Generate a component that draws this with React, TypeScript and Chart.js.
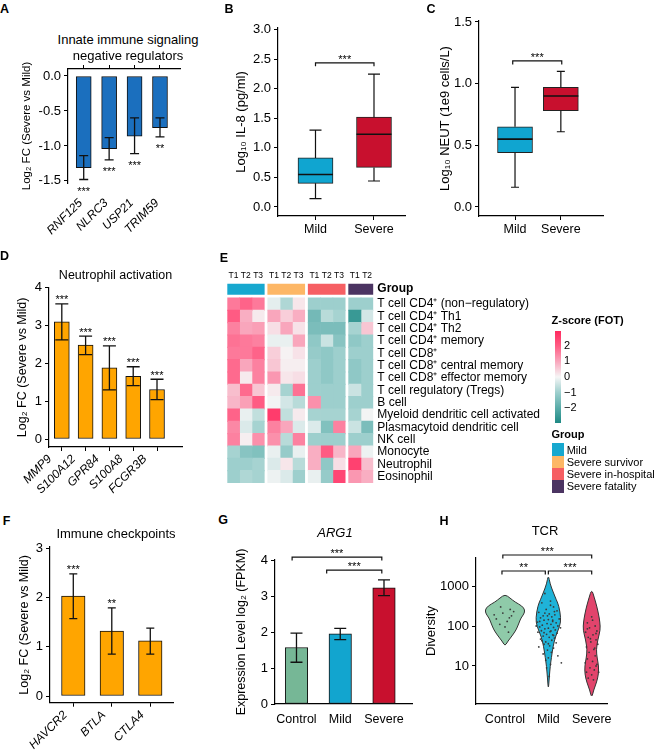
import React, { useEffect, useRef } from 'react';
import { Chart, registerables } from 'chart.js';

Chart.register(...registerables);

const FONT = "'Liberation Sans', Arial, Helvetica, sans-serif";
Chart.defaults.font.family = FONT;
Chart.defaults.color = '#000';

/* ====================== DATA ====================== */
// A — innate immune signaling negative regulators
const aGenes = ['RNF125', 'NLRC3', 'USP21', 'TRIM59'];
const aLog2FC = [-1.31, -1.04, -0.86, -0.74];
const aErrLow = [-1.48, -1.2, -1.11, -0.87];
const aErrHigh = [-1.14, -0.88, -0.6, -0.6];
const aSig = ['***', '***', '***', '**'];
const aYTicks = [0, -0.5, -1.0, -1.5];

// B — IL-8 box plot
const boxGroups = ['Mild', 'Severe'];
const bWhiskerLow = [0.14, 0.44];
const bQ1 = [0.4, 0.67];
const bMedian = [0.55, 1.23];
const bQ3 = [0.83, 1.52];
const bWhiskerHigh = [1.3, 2.25];
const bYTicks = [0, 0.5, 1, 1.5, 2, 2.5, 3];
const bBracket = [1, 2, 2.44];
const bBracketSig = '***';

// C — NEUT box plot
const cWhiskerLow = [0.16, 0.61];
const cQ1 = [0.44, 0.78];
const cMedian = [0.55, 0.9];
const cQ3 = [0.65, 0.97];
const cWhiskerHigh = [0.97, 1.1];
const cYTicks = [0, 0.5, 1.0, 1.5];
const cBracket = [0.95, 2.02, 1.184];
const cBracketSig = '***';

// D — neutrophil activation
const dGenes = ['MMP9', 'S100A12', 'GPR84', 'S100A8', 'FCGR3B'];
const dLog2FC = [3.1, 2.48, 1.88, 1.66, 1.31];
const dErrLow = [2.62, 2.23, 1.3, 1.41, 1.04];
const dErrHigh = [3.57, 2.72, 2.46, 1.91, 1.58];
const dSig = ['***', '***', '***', '***', '***'];
const dYTicks = [0, 1, 2, 3, 4];

// E — heatmap (Z-score of FOT)
const heatRows = [
  'T cell CD4\u207A (non\u2212regulatory)',
  'T cell CD4\u207A Th1',
  'T cell CD4\u207A Th2',
  'T cell CD4\u207A memory',
  'T cell CD8\u207A',
  'T cell CD8\u207A central memory',
  'T cell CD8\u207A effector memory',
  'T cell regulatory (Tregs)',
  'B cell',
  'Myeloid dendritic cell activated',
  'Plasmacytoid dendritic cell',
  'NK cell',
  'Monocyte',
  'Neutrophil',
  'Eosinophil',
];
const heatGroups = ['Mild', 'Severe survivor', 'Severe in-hospital', 'Severe fatality'];
const heatGroupColors = ['#17a8cf', '#fdb766', '#f65f63', '#4b3462'];
const heatColGroup = [0, 0, 0, 1, 1, 1, 2, 2, 2, 3, 3];
const heatColTime = ['T1', 'T2', 'T3', 'T1', 'T2', 'T3', 'T1', 'T2', 'T3', 'T1', 'T2'];
const zMild = [
  [1.6, 1.9, 1.6], [2.0, 0.9, 0.15], [1.5, 1.0, 1.1], [1.7, 1.6, 1.5], [1.6, 1.6, 1.9],
  [1.8, 1.0, 1.5], [1.8, 0.15, 1.5], [0.7, 1.8, 0.6], [0.8, 1.1, 2.0], [1.9, -0.15, -0.6],
  [1.4, -0.3, -0.9], [1.5, 0.1, 1.3], [-0.9, -1.3, -1.4], [-1.0, -1.0, -0.9], [-1.0, -0.8, -0.9],
];
const zSurvivor = [
  [-0.2, -0.8, 0.2], [1.0, 0.5, 0.9], [0.3, 1.0, 0.25], [-0.15, -0.15, 1.0], [0.5, 0.05, 0.25],
  [0.6, 0.1, 0.1], [1.2, 0.2, 0.3], [0.15, -0.9, 1.7], [-0.05, -0.4, -0.7], [2.6, -0.6, 0.15],
  [1.5, 1.0, -0.3], [1.3, -0.7, 1.5], [-0.15, -1.1, -0.15], [-0.3, 0.2, -0.7], [-0.1, -0.3, -1.0],
];
const zInHospital = [
  [-1.0, -1.0, -1.0], [-1.6, -0.7, -0.9], [-1.5, -1.5, -1.5], [-1.2, -0.5, -1.3], [-1.1, -1.2, -1.0],
  [-1.0, -1.2, -1.0], [-1.0, -1.2, -1.0], [-1.0, -1.0, -1.0], [1.3, -1.0, -1.0], [-0.9, -0.9, -0.9],
  [-0.3, -1.4, 1.5], [-1.0, -1.0, -1.0], [0.9, 2.0, 0.8], [0.9, -1.2, 0.3], [-0.15, -1.1, 2.4],
];
const zFatality = [
  [-1.0, -1.0], [-2.5, -0.4], [-0.9, 0.6], [-1.2, -1.0], [-1.0, -1.0],
  [-1.2, -1.0], [-1.2, -1.0], [-0.5, -1.0], [-1.0, -1.0], [-0.9, -0.05],
  [-0.5, -1.5], [-1.0, -1.0], [1.0, -0.1], [2.5, 0.7], [1.2, 0.9],
];
const zLegendTicks = [2, 1, 0, -1, -2];

// F — immune checkpoints
const fGenes = ['HAVCR2', 'BTLA', 'CTLA4'];
const fLog2FC = [2.03, 1.32, 1.12];
const fErrLow = [1.57, 0.85, 0.85];
const fErrHigh = [2.48, 1.79, 1.38];
const fSig = ['***', '**', ''];
const fYTicks = [0, 1, 2, 3];

// G — ARG1 expression
const gGroups = ['Control', 'Mild', 'Severe'];
const gMean = [1.57, 1.95, 3.23];
const gErrLow = [1.16, 1.79, 3.01];
const gErrHigh = [1.97, 2.1, 3.45];
const gYTicks = [0, 1, 2, 3, 4];
const gBracketFrom = [0.9, 1.69];
const gBracketTo = [2.95, 2.95];
const gBracketY = [4.08, 3.72];
const gBracketSig = ['***', '***'];

// H — TCR diversity (violins)
const hGroups = ['Control', 'Mild', 'Severe'];
const hYTicks = [10, 100, 1000];
const hCtrlLog = [1.5, 1.6, 1.7, 1.8, 1.9, 2.0, 2.1, 2.2, 2.3, 2.4, 2.5, 2.6, 2.7, 2.79];
const hCtrlDens = [0, 0.12, 0.27, 0.42, 0.55, 0.64, 0.72, 0.8, 0.95, 1.0, 0.86, 0.5, 0.25, 0];
const hMildLog = [0.4, 0.7, 1.0, 1.2, 1.5, 1.75, 2.0, 2.2, 2.5, 2.65, 2.85, 3.05, 3.28];
const hMildDens = [0, 0.07, 0.15, 0.24, 0.38, 0.58, 0.92, 1.0, 0.84, 0.64, 0.38, 0.14, 0];
const hSevLog = [0.2, 0.4, 0.6, 0.8, 1.0, 1.2, 1.4, 1.65, 1.9, 2.1, 2.3, 2.5, 2.7, 2.92];
const hSevDens = [0, 0.22, 0.55, 0.75, 0.76, 0.6, 0.5, 0.66, 0.95, 0.9, 0.75, 0.55, 0.3, 0];
const hCtrlPts = [
  [-0.05, 210], [0.12, 260], [-0.2, 150], [0.05, 130], [0.15, 180], [-0.1, 300],
  [0.2, 230], [0.0, 95], [-0.12, 110], [0.08, 70], [0.1, 160], [-0.25, 190],
];
const hMildPts = [
  [-0.08, 650], [0.05, 420], [-0.15, 380], [0.12, 300], [-0.05, 260], [0.2, 240], [-0.22, 220],
  [0.02, 200], [0.15, 190], [-0.12, 180], [0.08, 170], [-0.18, 160], [0.25, 150], [0.0, 145],
  [-0.1, 140], [0.1, 130], [-0.25, 125], [0.18, 120], [-0.03, 115], [0.06, 110], [-0.14, 105],
  [0.22, 100], [-0.2, 95], [0.12, 92], [0.0, 88], [-0.08, 85], [0.16, 80], [-0.16, 76],
  [0.04, 72], [-0.24, 70], [0.2, 66], [-0.04, 62], [0.1, 60], [-0.12, 56], [0.02, 52],
  [0.14, 50], [-0.18, 47], [0.08, 44], [-0.06, 40], [0.18, 38], [-0.1, 35], [0.03, 32],
  [-0.22, 30], [0.12, 28], [-0.02, 25], [0.07, 22], [-0.12, 20], [0.22, 18], [0.0, 16],
  [-0.06, 14], [0.3, 12], [0.05, 11], [-0.04, 9], [0.02, 5.5], [0.1, 140], [-0.08, 210],
  [0.05, 330], [-0.02, 180], [0.14, 230], [-0.2, 130], [0.28, 90], [-0.28, 100], [0.06, 75],
  [-0.1, 68], [0.12, 58], [-0.15, 43], [0.0, 36],
];
const hSevPts = [
  [0.0, 170], [-0.1, 120], [0.08, 100], [-0.05, 90], [0.12, 75], [-0.14, 70], [0.03, 60],
  [-0.08, 52], [0.1, 45], [-0.02, 40], [0.14, 35], [-0.12, 30], [0.05, 26], [-0.06, 22],
  [0.08, 18], [-0.1, 15], [0.02, 13], [0.12, 11], [-0.04, 9], [0.06, 8], [-0.12, 7],
  [0.16, 7], [0.0, 6], [-0.08, 5], [0.04, 4.5], [0.1, 10], [-0.15, 12], [0.07, 28],
  [-0.03, 48], [0.1, 65], [-0.1, 85], [0.02, 140],
];
const hBracketFrom = [0.93, 2.0, 0.95];
const hBracketTo = [1.93, 3.0, 3.0];
const hBracketY = [2370, 2370, 5960];
const hBracketSig = ['**', '***', '***'];

/* ====================== LAYOUT / STYLE ====================== */
type Rect = { x: number; y: number; w: number; h: number };
type Area = { l: number; t: number; r: number; b: number };

const margins = (r: Rect, a: Area) => ({
  left: a.l - r.x,
  top: a.t - r.y,
  right: r.x + r.w - a.r,
  bottom: r.y + r.h - a.b,
});

const fixSize = (size: number) => (s: any) => {
  if (s.isHorizontal()) s.height = size;
  else s.width = size;
  s.paddingLeft = 0;
  s.paddingRight = 0;
  s.paddingTop = 0;
  s.paddingBottom = 0;
};

const fmt1 = (v: number) => v.toFixed(1);
const fmt0 = (v: number) => String(Math.round(v));

const zStops: [number, string][] = [
  [-2.94, '#1e8984'], [-2, '#58aba8'], [-1, '#9dcfcd'], [0, '#f6f6f6'],
  [1, '#f9a6bc'], [2, '#ff5b83'], [2.94, '#ff2a5f'],
];
const hex = (c: string) => [1, 3, 5].map((i) => parseInt(c.slice(i, i + 2), 16));
function zColor(z: number) {
  if (z <= zStops[0][0]) return zStops[0][1];
  for (let i = 1; i < zStops.length; i++) {
    if (z <= zStops[i][0]) {
      const [z0, c0] = zStops[i - 1];
      const [z1, c1] = zStops[i];
      const t = (z - z0) / (z1 - z0);
      const a = hex(c0), b = hex(c1);
      const m = a.map((v, k) => Math.round(v + (b[k] - v) * t));
      return `rgb(${m[0]},${m[1]},${m[2]})`;
    }
  }
  return zStops[zStops.length - 1][1];
}

function drawStars(ctx: any, text: string, x: number, cy: number, fs = 11) {
  if (!text) return;
  ctx.font = `${fs}px ${FONT}`;
  ctx.textAlign = 'center';
  ctx.textBaseline = 'alphabetic';
  ctx.fillStyle = '#000';
  ctx.fillText(text, x, cy + 0.58 * fs);
}

function makeExtras(d: any) {
  return {
    id: 'extras',
    beforeDatasetsDraw(chart: any) {
      if (!d.violins) return;
      const ctx = chart.ctx, xs = chart.scales.x, ys = chart.scales.y;
      ctx.save();
      for (const v of d.violins) {
        const right: number[][] = [], left: number[][] = [];
        v.logY.forEach((ly: number, k: number) => {
          const py = ys.getPixelForValue(Math.pow(10, ly));
          right.push([xs.getPixelForValue(v.x + v.dens[k] * v.half), py]);
          left.push([xs.getPixelForValue(v.x - v.dens[k] * v.half), py]);
        });
        const pts = right.concat(left.slice(1, -1).reverse());
        const n = pts.length;
        const mid = (a: number[], b: number[]) => [(a[0] + b[0]) / 2, (a[1] + b[1]) / 2];
        const m0 = mid(pts[n - 1], pts[0]);
        ctx.beginPath();
        ctx.moveTo(m0[0], m0[1]);
        for (let i = 0; i < n; i++) {
          const p = pts[i], q = pts[(i + 1) % n];
          const m = mid(p, q);
          ctx.quadraticCurveTo(p[0], p[1], m[0], m[1]);
        }
        ctx.closePath();
        ctx.fillStyle = v.color;
        ctx.fill();
        ctx.strokeStyle = '#333';
        ctx.lineWidth = 1;
        ctx.stroke();
      }
      ctx.restore();
    },
    afterDatasetsDraw(chart: any) {
      const ctx = chart.ctx, xs = chart.scales.x, ys = chart.scales.y;
      const py = (v: number) => ys.getPixelForValue(v);
      ctx.save();
      ctx.strokeStyle = '#111';
      (d.boxes || []).forEach((b: any) => {
        const x = xs.getPixelForValue(b.x);
        ctx.lineWidth = 1.2;
        ctx.beginPath();
        ctx.moveTo(x, py(b.q3)); ctx.lineTo(x, py(b.max));
        ctx.moveTo(x, py(b.q1)); ctx.lineTo(x, py(b.min));
        ctx.moveTo(x - b.cap / 2, py(b.max)); ctx.lineTo(x + b.cap / 2, py(b.max));
        ctx.moveTo(x - b.cap / 2, py(b.min)); ctx.lineTo(x + b.cap / 2, py(b.min));
        ctx.stroke();
        ctx.lineWidth = 1.6;
        ctx.beginPath();
        ctx.moveTo(x - b.w / 2, py(b.med)); ctx.lineTo(x + b.w / 2, py(b.med));
        ctx.stroke();
      });
      (d.errors || []).forEach((e: any) => {
        const x = xs.getPixelForValue(e.x);
        const y1 = py(e.lo), y2 = py(e.hi);
        ctx.lineWidth = 1.3;
        ctx.beginPath();
        ctx.moveTo(x, y1); ctx.lineTo(x, y2);
        ctx.moveTo(x - e.cap / 2, y1); ctx.lineTo(x + e.cap / 2, y1);
        ctx.moveTo(x - e.cap / 2, y2); ctx.lineTo(x + e.cap / 2, y2);
        ctx.stroke();
      });
      (d.stars || []).forEach((s: any) => {
        const x = xs.getPixelForValue(s.x);
        const p = py(s.v);
        drawStars(ctx, s.text, x, s.below ? p + s.gap : p - s.gap);
      });
      (d.brackets || []).forEach((b: any) => {
        const x1 = xs.getPixelForValue(b.from), x2 = xs.getPixelForValue(b.to);
        const y = py(b.y);
        ctx.lineWidth = 1.2;
        ctx.beginPath();
        ctx.moveTo(x1, y + 3.5); ctx.lineTo(x1, y); ctx.lineTo(x2, y); ctx.lineTo(x2, y + 3.5);
        ctx.stroke();
        drawStars(ctx, b.text, (x1 + x2) / 2, y - 6.5);
      });
      ctx.restore();
    },
  };
}

function xAxis(o: any) {
  const marks = o.marks !== false;
  return {
    type: 'linear', position: 'bottom', bounds: 'data', offset: false, min: o.min, max: o.max,
    afterBuildTicks: (s: any) => { s.ticks = o.labels.map((_: any, i: number) => ({ value: i + 1 })); },
    afterFit: fixSize(o.size),
    ticks: {
      autoSkip: false, minRotation: o.rot || 0, maxRotation: o.rot || 0,
      padding: o.pad ?? 3, labelOffset: o.labelOffset || 0, color: '#000',
      font: { size: o.fontSize || 12, style: o.italic ? 'italic' : 'normal' },
      callback: (_v: any, i: number) => o.labels[i],
    },
    grid: { display: marks, offset: false, drawOnChartArea: false, drawTicks: true, tickLength: marks ? 4 : 0, color: '#000', lineWidth: 1 },
    border: { display: o.border !== false, color: '#000', width: 1.2 },
  };
}

function yAxis(o: any) {
  const lh = o.titleSize * 1.2;
  return {
    type: o.type || 'linear', bounds: 'data', offset: false, min: o.min, max: o.max,
    afterBuildTicks: (s: any) => { s.ticks = o.ticks.map((v: number) => ({ value: v })); },
    afterFit: fixSize(o.size),
    ticks: { autoSkip: false, padding: 3, color: '#000', font: { size: 13 }, callback: (v: number) => o.fmt(v) },
    grid: { display: true, offset: false, drawOnChartArea: false, drawTicks: true, tickLength: 4, color: '#000', lineWidth: 1 },
    border: { display: true, color: '#000', width: 1.2 },
    title: {
      display: true, text: o.title, color: '#000', font: { size: o.titleSize },
      padding: { top: o.titleCenter - lh / 2, bottom: 0 },
    },
  };
}

const baseOptions = (m: any, extraPad: any = {}) => ({
  responsive: false,
  animation: false,
  devicePixelRatio: 1,
  layout: { padding: { left: 0, bottom: 0, top: m.top, right: m.right, ...extraPad }, autoPadding: false },
  plugins: { legend: { display: false }, tooltip: { enabled: false } },
  events: [],
});

/* ---------- bar panels ---------- */
function barConfig(p: any) {
  const m = margins(p.rect, p.area);
  const scales: any = {
    x: xAxis({
      labels: p.labels, min: p.xMin, max: p.xMax, size: m.bottom, rot: p.rot, italic: p.italic,
      pad: p.pad, labelOffset: p.labelOffset, fontSize: p.labelSize, marks: p.topAxis ? false : p.marks,
      border: !p.topAxis,
    }),
    y: yAxis({
      min: p.yMin, max: p.yMax, ticks: p.yTicks, fmt: p.fmt, size: m.left,
      title: p.yTitle, titleSize: p.yTitleSize || 13, titleCenter: p.yTitleX - p.rect.x,
    }),
  };
  if (p.topAxis) {
    scales.xTop = {
      type: 'linear', position: 'top', bounds: 'data', offset: false, min: p.xMin, max: p.xMax,
      afterBuildTicks: (s: any) => { s.ticks = p.labels.map((_: any, i: number) => ({ value: i + 1 })); },
      afterFit: fixSize(m.top),
      ticks: { display: false },
      grid: { display: true, offset: false, drawOnChartArea: false, drawTicks: true, tickLength: 4, color: '#000', lineWidth: 1 },
      border: { display: true, color: '#000', width: 1.2 },
    };
  }
  const opts: any = baseOptions(m, p.topAxis ? { top: 0 } : {});
  opts.scales = scales;
  return {
    type: 'bar',
    data: {
      datasets: [{
        data: p.values.map((v: number, i: number) => ({ x: i + 1, y: v })),
        backgroundColor: p.colors, borderColor: '#111', borderWidth: 1, borderSkipped: false,
        barThickness: p.barWidth, xAxisID: 'x', yAxisID: 'y',
      }],
    },
    options: opts,
    plugins: [makeExtras({
      errors: p.values.map((_: number, i: number) => ({ x: i + 1, lo: p.errLow[i], hi: p.errHigh[i], cap: p.cap })),
      stars: (p.sig || []).map((s: string, i: number) => ({
        x: i + 1, text: s, below: p.values[i] < 0,
        v: p.values[i] < 0 ? p.errLow[i] : p.errHigh[i], gap: p.values[i] < 0 ? 9 : 7,
      })),
      brackets: p.brackets || [],
    })],
  };
}

/* ---------- box panels ---------- */
function boxConfig(p: any) {
  const m = margins(p.rect, p.area);
  const opts: any = baseOptions(m);
  opts.scales = {
    x: xAxis({ labels: boxGroups, min: p.xMin, max: p.xMax, size: m.bottom, pad: 2, fontSize: 12.5 }),
    y: yAxis({
      min: p.yMin, max: p.yMax, ticks: p.yTicks, fmt: fmt1, size: m.left,
      title: p.yTitle, titleSize: 13, titleCenter: p.yTitleX - p.rect.x,
    }),
  };
  return {
    type: 'bar',
    data: {
      datasets: [{
        data: boxGroups.map((_, i) => ({ x: i + 1, y: [p.q1[i], p.q3[i]] })),
        backgroundColor: ['#10a5d0', '#c8102e'], borderColor: '#222', borderWidth: 1,
        borderSkipped: false, barThickness: p.boxWidth,
      }],
    },
    options: opts,
    plugins: [makeExtras({
      boxes: boxGroups.map((_, i) => ({
        x: i + 1, min: p.lo[i], q1: p.q1[i], med: p.med[i], q3: p.q3[i], max: p.hi[i], w: p.boxWidth, cap: p.cap,
      })),
      brackets: [{ from: p.bracket[0], to: p.bracket[1], y: p.bracket[2], text: p.bracketSig }],
    })],
  };
}

/* ---------- heatmap ---------- */
const E_RECT: Rect = { x: 220, y: 262, w: 335, h: 230 };
const E_AREA: Area = { l: 227.3, t: 283, r: 373.3, b: 483 };
const ROW_PX = 12.333;
const HEAT_GAP = 0.28;
const GROUP_ROW = -1.2176;
const zByGroup = [zMild, zSurvivor, zInHospital, zFatality];

function heatConfig() {
  const m = margins(E_RECT, E_AREA);
  const colStart = heatColGroup.map((g, j) => j + g * HEAT_GAP);
  const firstCol = (g: number) => heatColGroup.indexOf(g);
  const zAt = (i: number, j: number) => zByGroup[heatColGroup[j]][i][j - firstCol(heatColGroup[j])];
  const datasets: any[] = heatColTime.map((_, j) => ({
    data: heatRows.map((_r, i) => ({ y: i, x: [colStart[j], colStart[j] + 1] })),
    backgroundColor: heatRows.map((_r, i) => zColor(zAt(i, j))),
    barThickness: ROW_PX + 0.5, borderWidth: 0, grouped: false,
  }));
  datasets.push({
    data: heatGroups.map((_, g) => {
      const cols = heatColGroup.map((gg, j) => (gg === g ? j : -1)).filter((j) => j >= 0);
      return { y: GROUP_ROW, x: [colStart[cols[0]], colStart[cols[cols.length - 1]] + 1] };
    }),
    backgroundColor: heatGroupColors, barThickness: 10.3, borderWidth: 0, grouped: false,
  });
  const opts: any = baseOptions(m, { left: m.left, bottom: m.bottom, top: 0, right: 0 });
  opts.indexAxis = 'y';
  opts.scales = {
    x: {
      type: 'linear', position: 'top', bounds: 'data', offset: false, min: 0, max: colStart[colStart.length - 1] + 1,
      afterBuildTicks: (s: any) => { s.ticks = colStart.map((v) => ({ value: v + 0.5 })); },
      afterFit: fixSize(m.top),
      ticks: { autoSkip: false, maxRotation: 0, minRotation: 0, padding: 2.2, color: '#000', font: { size: 8.5 },
        callback: (_v: any, i: number) => heatColTime[i] },
      grid: { display: false, drawTicks: false }, border: { display: false },
    },
    y: {
      type: 'linear', position: 'right', reverse: true, bounds: 'data', offset: false,
      min: -0.5 - 15 / ROW_PX, max: heatRows.length - 0.5,
      afterBuildTicks: (s: any) => { s.ticks = [GROUP_ROW, ...heatRows.map((_, i) => i)].map((v) => ({ value: v })); },
      afterFit: fixSize(m.right),
      ticks: {
        autoSkip: false, padding: 4, color: '#000',
        font: (c: any) => ({ size: 12, weight: c.index === 0 ? 'bold' : 'normal' }),
        callback: (_v: any, i: number) => (i === 0 ? 'Group' : heatRows[i - 1]),
      },
      grid: { display: false, offset: false, drawTicks: false }, border: { display: false },
    },
  };
  return { type: 'bar', data: { datasets }, options: opts };
}

/* ---------- colour bar ---------- */
const CB_RECT: Rect = { x: 548, y: 325, w: 30, h: 105 };
const CB_AREA: Area = { l: 555, t: 331, r: 561, b: 423 };
const Z_MIN = -2.94, Z_MAX = 2.94;
function colorbarConfig() {
  const m = margins(CB_RECT, CB_AREA);
  const opts: any = baseOptions(m, { left: m.left, bottom: m.bottom, right: 0 });
  opts.scales = {
    x: { display: false },
    y: {
      type: 'linear', position: 'right', bounds: 'data', min: Z_MIN, max: Z_MAX,
      afterBuildTicks: (s: any) => { s.ticks = zLegendTicks.map((v) => ({ value: v })); },
      afterFit: fixSize(m.right),
      ticks: { padding: 3, color: '#000', font: { size: 11 }, callback: (v: number) => (v < 0 ? '\u2212' + Math.abs(v) : String(v)) },
      grid: { display: false, drawTicks: false }, border: { display: false },
    },
  };
  return {
    type: 'bar',
    data: {
      labels: [''],
      datasets: [{
        data: [[Z_MIN, Z_MAX]], barPercentage: 1, categoryPercentage: 1, borderWidth: 0,
        backgroundColor: (c: any) => {
          const a = c.chart.chartArea;
          if (!a) return '#fff';
          const g = c.chart.ctx.createLinearGradient(0, a.bottom, 0, a.top);
          zStops.forEach(([z, col]) => g.addColorStop((z - Z_MIN) / (Z_MAX - Z_MIN), col));
          return g;
        },
      }],
    },
    options: opts,
  };
}

/* ---------- violin panel ---------- */
const H_RECT: Rect = { x: 418, y: 540, w: 237, h: 213 };
const H_AREA: Area = { l: 476, t: 558, r: 607, b: 704 };
function violinConfig() {
  const m = margins(H_RECT, H_AREA);
  const opts: any = baseOptions(m);
  opts.scales = {
    x: xAxis({ labels: hGroups, min: 0.331, max: 3.353, size: m.bottom, pad: 8.5, fontSize: 12.5, marks: false }),
    y: yAxis({
      type: 'logarithmic', min: 1.122, max: 5012, ticks: hYTicks, fmt: fmt0, size: m.left,
      title: 'Diversity', titleSize: 13, titleCenter: 431 - H_RECT.x,
    }),
  };
  const pts = [hCtrlPts, hMildPts, hSevPts];
  return {
    type: 'scatter',
    data: {
      datasets: pts.map((arr, g) => ({
        data: arr.map(([dx, v]) => ({ x: g + 1 + dx, y: v })),
        pointRadius: 0.9, pointBackgroundColor: '#3a3a3a', pointBorderWidth: 0, showLine: false,
      })),
    },
    options: opts,
    plugins: [makeExtras({
      violins: [
        { x: 1, logY: hCtrlLog, dens: hCtrlDens, half: 0.46, color: '#8fcaa9' },
        { x: 2, logY: hMildLog, dens: hMildDens, half: 0.29, color: '#1fb3d8' },
        { x: 3, logY: hSevLog, dens: hSevDens, half: 0.21, color: '#e2446c' },
      ],
      brackets: hBracketSig.map((s, i) => ({ from: hBracketFrom[i], to: hBracketTo[i], y: hBracketY[i], text: s })),
    })],
  };
}

/* ---------- panel configs ---------- */
const makeA = () => barConfig({
  rect: { x: 0, y: 60, w: 215, h: 190 }, area: { l: 68, t: 69, r: 180, b: 183 }, topAxis: true,
  labels: aGenes, values: aLog2FC, errLow: aErrLow, errHigh: aErrHigh, sig: aSig,
  xMin: 0.382, xMax: 4.787, yMin: -1.53, yMax: 0.1, yTicks: aYTicks, fmt: fmt1,
  colors: '#1b6fbe', barWidth: 15, cap: 9, rot: 45, italic: true, pad: 13, labelOffset: -3, labelSize: 12,
  yTitle: 'Log\u2082 FC (Severe vs Mild)', yTitleSize: 11.5, yTitleX: 27,
});
const makeB = () => boxConfig({
  rect: { x: 215, y: 15, w: 215, h: 235 }, area: { l: 278, t: 28, r: 405, b: 216 },
  xMin: 0.359, xMax: 2.53, yMin: -0.153, yMax: 3.03, yTicks: bYTicks,
  lo: bWhiskerLow, q1: bQ1, med: bMedian, q3: bQ3, hi: bWhiskerHigh, boxWidth: 35, cap: 12,
  bracket: bBracket, bracketSig: bBracketSig,
  yTitle: 'Log\u2081\u2080 IL-8 (pg/ml)', yTitleX: 241,
});
const makeC = () => boxConfig({
  rect: { x: 430, y: 5, w: 225, h: 245 }, area: { l: 479, t: 21, r: 603, b: 216 },
  xMin: 0.214, xMax: 2.92, yMin: -0.073, yMax: 1.508, yTicks: cYTicks,
  lo: cWhiskerLow, q1: cQ1, med: cMedian, q3: cQ3, hi: cWhiskerHigh, boxWidth: 35, cap: 8,
  bracket: cBracket, bracketSig: cBracketSig,
  yTitle: 'Log\u2081\u2080 NEUT (1e9 cells/L)', yTitleX: 445,
});
const makeD = () => barConfig({
  rect: { x: 0, y: 282, w: 210, h: 218 }, area: { l: 49, t: 287.7, r: 182, b: 447 },
  labels: dGenes, values: dLog2FC, errLow: dErrLow, errHigh: dErrHigh, sig: dSig,
  xMin: 0.462, xMax: 6.05, yMin: -0.211, yMax: 4.0, yTicks: dYTicks, fmt: fmt0,
  colors: '#ffa500', barWidth: 15, cap: 13, rot: 45, italic: true, pad: 1, labelOffset: -12, labelSize: 12,
  yTitle: 'Log\u2082 FC (Severe vs Mild)', yTitleSize: 12.5, yTitleX: 23,
});
const makeF = () => barConfig({
  rect: { x: 0, y: 540, w: 215, h: 213 }, area: { l: 50, t: 547, r: 173, b: 702.7 },
  labels: fGenes, values: fLog2FC, errLow: fErrLow, errHigh: fErrHigh, sig: fSig,
  xMin: 0.395, xMax: 3.59, yMin: -0.136, yMax: 3.026, yTicks: fYTicks, fmt: fmt0,
  colors: '#ffa500', barWidth: 23.5, cap: 8, rot: 45, italic: true, pad: 1.5, labelOffset: -8, labelSize: 12,
  yTitle: 'Log\u2082 FC (Severe vs Mild)', yTitleSize: 12.5, yTitleX: 25,
});
const makeG = () => barConfig({
  rect: { x: 215, y: 540, w: 205, h: 213 }, area: { l: 275, t: 560, r: 412, b: 704 },
  labels: gGroups, values: gMean, errLow: gErrLow, errHigh: gErrHigh, sig: [],
  xMin: 0.509, xMax: 3.64, yMin: 0, yMax: 4, yTicks: gYTicks, fmt: fmt0,
  colors: ['#76b796', '#12a5cf', '#c8102e'], barWidth: 22.5, cap: 12, rot: 0, italic: false,
  pad: 8, labelOffset: 0, labelSize: 12.5, marks: false,
  yTitle: 'Expression Level log\u2082 (FPKM)', yTitleSize: 12.5, yTitleX: 241.5,
  brackets: gBracketSig.map((s, i) => ({ from: gBracketFrom[i], to: gBracketTo[i], y: gBracketY[i], text: s })),
});

/* ====================== COMPONENTS ====================== */
function ChartBox({ rect, make }: { rect: Rect; make: () => any }) {
  const ref = useRef<HTMLCanvasElement | null>(null);
  useEffect(() => {
    const chart = new Chart(ref.current as HTMLCanvasElement, make());
    return () => chart.destroy();
  }, []);
  return (
    <canvas
      ref={ref}
      width={rect.w}
      height={rect.h}
      style={{ position: 'absolute', left: rect.x, top: rect.y, width: rect.w, height: rect.h }}
    />
  );
}

function Txt({ x, y, s = 13, bold = false, italic = false, left = false, children }: any) {
  return (
    <div
      style={{
        position: 'absolute', left: x, top: y,
        transform: left ? 'translate(0,-50%)' : 'translate(-50%,-50%)',
        fontSize: s, fontWeight: bold ? 700 : 400, fontStyle: italic ? 'italic' : 'normal',
        whiteSpace: 'nowrap', lineHeight: 1, color: '#000',
      }}
    >
      {children}
    </div>
  );
}

const legendY = [443.3, 455.6, 467.9, 480.2];

export default function App() {
  useEffect(() => {
    document.body.style.margin = '0';
  }, []);
  return (
    <div
      style={{
        position: 'absolute', left: 0, top: 0, width: 655, height: 753,
        background: '#fff', fontFamily: FONT, overflow: 'hidden',
      }}
    >
      <ChartBox rect={{ x: 0, y: 60, w: 215, h: 190 }} make={makeA} />
      <ChartBox rect={{ x: 215, y: 15, w: 215, h: 235 }} make={makeB} />
      <ChartBox rect={{ x: 430, y: 5, w: 225, h: 245 }} make={makeC} />
      <ChartBox rect={{ x: 0, y: 282, w: 210, h: 218 }} make={makeD} />
      <ChartBox rect={E_RECT} make={heatConfig} />
      <ChartBox rect={CB_RECT} make={colorbarConfig} />
      <ChartBox rect={{ x: 0, y: 540, w: 215, h: 213 }} make={makeF} />
      <ChartBox rect={{ x: 215, y: 540, w: 205, h: 213 }} make={makeG} />
      <ChartBox rect={H_RECT} make={violinConfig} />

      {/* panel letters */}
      <Txt x={4.5} y={9} s={12.5} bold>A</Txt>
      <Txt x={229} y={9} s={12.5} bold>B</Txt>
      <Txt x={431} y={9} s={12.5} bold>C</Txt>
      <Txt x={4.5} y={256} s={12.5} bold>D</Txt>
      <Txt x={224} y={258} s={12.5} bold>E</Txt>
      <Txt x={6.5} y={520.5} s={12.5} bold>F</Txt>
      <Txt x={223} y={520} s={12.5} bold>G</Txt>
      <Txt x={444} y={521} s={12.5} bold>H</Txt>

      {/* titles */}
      <Txt x={128} y={39} s={13}>Innate immune signaling</Txt>
      <Txt x={128} y={55} s={13}>negative regulators</Txt>
      <Txt x={115.5} y={275} s={12.5}>Neutrophil activation</Txt>
      <Txt x={116} y={533} s={13}>Immune checkpoints</Txt>
      <Txt x={335} y={532} s={13} italic>ARG1</Txt>
      <Txt x={545} y={530} s={13}>TCR</Txt>

      {/* heatmap legends */}
      <Txt x={551.5} y={320} s={11} bold left>Z-score (FOT)</Txt>
      <Txt x={551.5} y={434.3} s={11} bold left>Group</Txt>
      {heatGroups.map((g, i) => (
        <React.Fragment key={g}>
          <div style={{ position: 'absolute', left: 551.7, top: legendY[i], width: 12.3, height: 12.4, background: heatGroupColors[i] }} />
          <Txt x={566.7} y={legendY[i] + 6.2} s={11} left>{g}</Txt>
        </React.Fragment>
      ))}
    </div>
  );
}
